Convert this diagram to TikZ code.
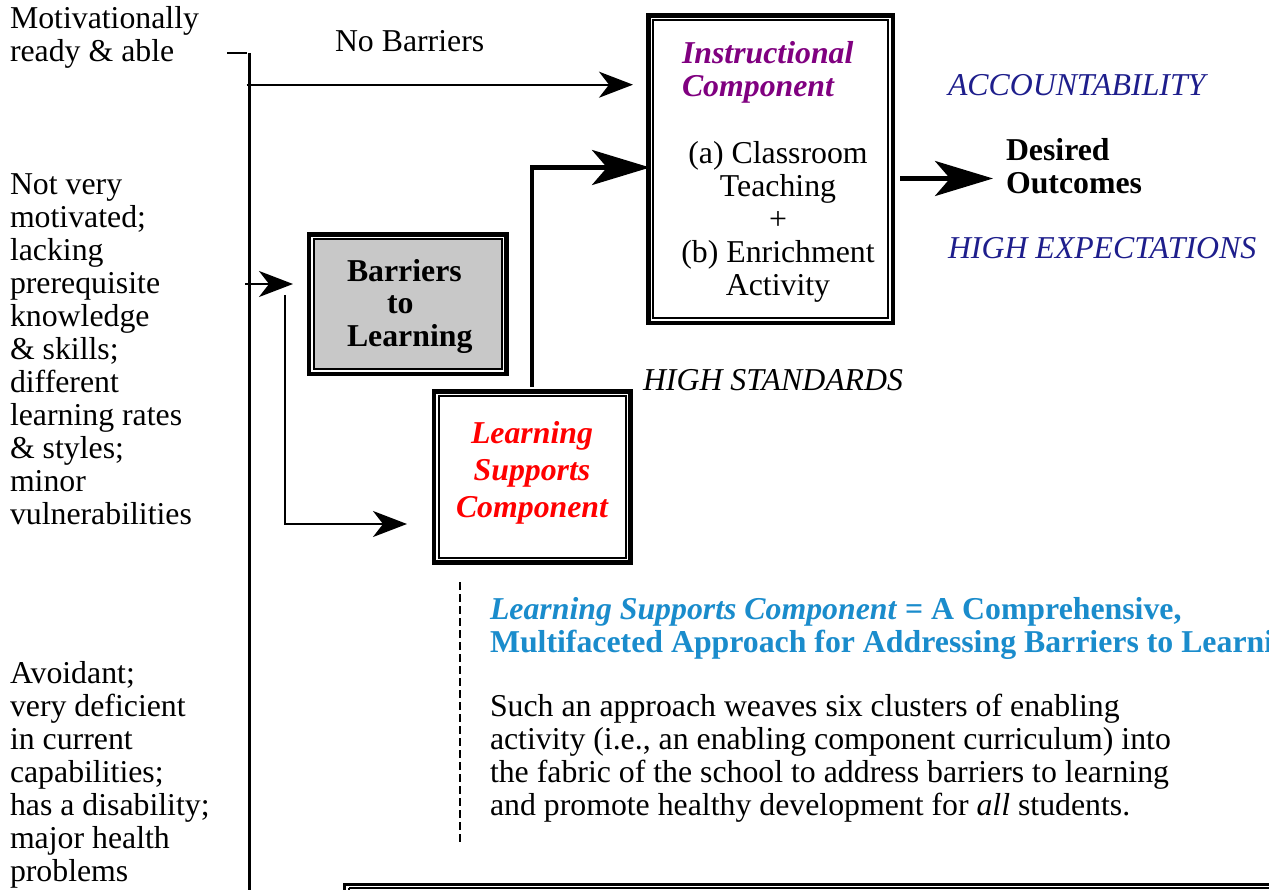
\documentclass[tikz,border=0pt]{standalone}
\usepackage{fontspec}
\setmainfont{Liberation Serif}
\usetikzlibrary{arrows.meta}
\definecolor{instrpurple}{HTML}{800080}
\definecolor{navyblue}{HTML}{1E1E8C}
\definecolor{lsblue}{HTML}{1A8CCC}
\definecolor{boxgray}{HTML}{C8C8C8}
\tikzset{
  txt/.style={font=\fontsize{31.8}{33}\selectfont, inner sep=0pt, outer sep=0pt, align=left},
  outerbox/.style={draw, line width=4.5pt, inner sep=0pt, outer sep=0pt},
  innerbox/.style={draw, line width=2pt},
  plainline/.style={line width=2.2pt},
  thinarrow/.style={line width=2.2pt, -{Stealth[length=34pt,width=26pt,inset=10pt]}},
  thickarrow/.style={line width=4.5pt, line cap=butt, -{Stealth[length=58pt,width=35pt,inset=15pt]}},
}
\begin{document}
\begin{tikzpicture}[x=1pt,y=-1pt]
\clip (0,0) rectangle (1269,890);
\fill[white] (0,0) rectangle (1269,890);

% left texts
\node[txt, anchor=north west] (ready) at (10,6.5) {Motivationally\\ready \& able};
\node[txt, anchor=north west] (notvery) at (10,174) {Not very\\motivated;\\lacking\\prerequisite\\knowledge\\\& skills;\\different\\learning rates\\\& styles;\\minor\\vulnerabilities};
\node[txt, anchor=north west] (avoid) at (10,661) {Avoidant;\\very deficient\\in current\\capabilities;\\has a disability;\\major health\\problems};

% trunk
\coordinate (tickL) at (227,53);
\coordinate (tickR) at (246.5,53);
\coordinate (trunktop) at (249.5,53);
\coordinate (trunkbot) at (249.5,895);
\draw[plainline] (tickL) -- (tickR);
\draw[plainline] (trunktop) -- (trunkbot);

% boxes
\node[outerbox, minimum width=244.5pt, minimum height=307.5pt] (instr) at (770.75,169.25) {};
\draw[innerbox] ([shift={(4.8,4.8)}]instr.north west) rectangle ([shift={(-4.8,-4.8)}]instr.south east);

\node[outerbox, minimum width=197.5pt, minimum height=139.5pt] (barr) at (407.75,304.25) {};
\filldraw[innerbox, fill=boxgray] ([shift={(5,5)}]barr.north west) rectangle ([shift={(-5,-5)}]barr.south east);

\node[outerbox, minimum width=196.5pt, minimum height=170.8pt] (ls) at (532.25,477.1) {};
\draw[innerbox] ([shift={(4.8,4.8)}]ls.north west) rectangle ([shift={(-4.8,-4.8)}]ls.south east);

\node[outerbox, line width=3.5pt, minimum width=1100pt, minimum height=300pt, anchor=north west] (bottombox) at (344.5,884.7) {};
\draw[innerbox] ([shift={(4.5,3.5)}]bottombox.north west) -- ([shift={(4.5,3.5)}]bottombox.north east);
\draw[innerbox] ([shift={(4.5,3.5)}]bottombox.north west) -- ([shift={(4.5,20)}]bottombox.north west);

% box texts
\node[txt, anchor=north west, font=\fontsize{31.8}{33}\selectfont\bfseries\itshape, text=instrpurple] (instrtitle) at (682,41) {Instructional\\Component};
\node[txt, anchor=north, align=center] (instrbody) at (778,141.5) {(a) Classroom\\Teaching\\+\\(b) Enrichment\\Activity};
\node[txt, anchor=north west, font=\fontsize{31.8}{32.8}\selectfont\bfseries] (barrtext) at (347,259) {Barriers\\\hspace*{40pt}to\\Learning};
\node[txt, anchor=north, align=center, font=\fontsize{31.8}{37}\selectfont\bfseries\itshape, text=red] (lstext) at (532,421) {Learning\\Supports\\Component};

% right labels
\node[txt, anchor=base west] (nobarr) at (335,52) {No Barriers};
\node[txt, anchor=base west, font=\fontsize{31.8}{33}\selectfont\itshape, text=navyblue] (acct) at (948,96) {ACCOUNTABILITY};
\node[txt, anchor=base west, font=\fontsize{31.8}{33}\selectfont\itshape, text=navyblue] (highexp) at (948,259) {HIGH EXPECTATIONS};
\node[txt, anchor=base west, font=\fontsize{31.8}{33}\selectfont\itshape] (highstd) at (643,391) {HIGH STANDARDS};
\node[txt, anchor=north west, font=\fontsize{31.8}{33}\selectfont\bfseries] (desired) at (1006,138) {Desired\\Outcomes};

% arrows
\coordinate (nbstart) at (246.5,84.7);
\coordinate (nbend) at (633,84.7);
\draw[thinarrow] (nbstart) -- (nbend);

\coordinate (brstart) at (245,284);
\coordinate (brend) at (293,284);
\draw[thinarrow] (brstart) -- (brend);

\coordinate (lsbranch) at (285,295);
\coordinate (lsend) at (407,524);
\draw[thinarrow] (lsbranch) |- (lsend);

\coordinate (upstart) at (532,387);
\coordinate (upend) at (650,167.5);
\draw[thickarrow] (upstart) |- (upend);

\coordinate (outstart) at (900,178.5);
\coordinate (outend) at (993,178.5);
\draw[thickarrow, line width=4.5pt] (outstart) -- (outend);

% dashed separator
\coordinate (dashtop) at (460,582);
\coordinate (dashbot) at (460,843);
\draw[line width=1.6pt, dash pattern=on 8pt off 4pt] (dashtop) -- (dashbot);

% paragraph
\node[txt, anchor=north west, font=\fontsize{31.8}{33}\selectfont\bfseries, text=lsblue] (lshead) at (490,597) {\textit{Learning Supports Component} = A Comprehensive,\\Multifaceted Approach for Addressing Barriers to Learning};
\node[txt, anchor=north west] (lsbody) at (490,694.5) {Such an approach weaves six clusters of enabling\\activity (i.e., an enabling component curriculum) into\\the fabric of the school to address barriers to learning\\and promote healthy development for \textit{all} students.};
\end{tikzpicture}
\end{document}
